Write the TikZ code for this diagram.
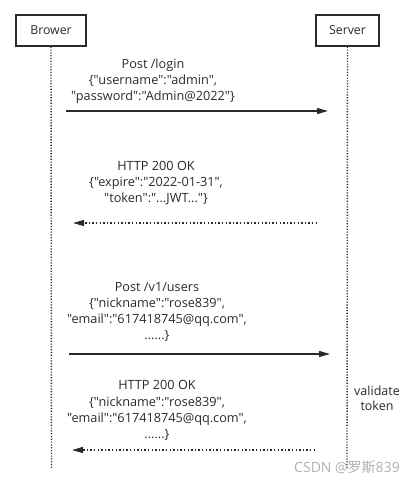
\documentclass[tikz,border=0pt]{standalone}
\usepackage{fontspec}
\setmainfont{Open Sans}[Ligatures=TeXOff]
\newfontfamily\cjkfont{Noto Sans CJK SC}
\usetikzlibrary{arrows.meta}
\definecolor{ink}{HTML}{2A2A2A}
\definecolor{wm}{HTML}{B0B0B0}
\begin{document}
\begin{tikzpicture}[x=1pt,y=-1pt,
  actor/.style={draw=ink,line width=1.4pt,minimum height=31pt,inner sep=0pt,font=\fontsize{12.3}{14}\selectfont,text=ink},
  life/.style={draw=ink,line width=1.4pt,dash pattern=on 1.2pt off 1.6pt},
  msg/.style={draw=ink,line width=1.4pt,-{Triangle[length=11pt,width=6pt]}},
  reply/.style={draw=ink,line width=1.4pt,dash pattern=on 1.4pt off 2.2pt,-{Triangle[length=11pt,width=6pt]}},
  lbl/.style={align=center,text=ink,font=\fontsize{12.7}{16.2}\selectfont,inner sep=0pt}]
\useasboundingbox (0,0) rectangle (418,483);
\node[actor,minimum width=70pt] (brower) at (51,30.5) {Brower};
\node[actor,minimum width=63pt] (server) at (347.5,30.5) {Server};
\coordinate (bend) at (51.5,468);
\coordinate (send) at (347,468);
\draw[life] (brower.south) -- (bend);
\draw[life] (server.south) -- (send);
% message 1
\coordinate (m1a) at (66,111);
\coordinate (m1b) at (328,111);
\draw[msg] (m1a) -- (m1b);
\node[lbl] (t1) at (153,81) {Post /login\\\{"username":"admin",\\"password":"Admin@2022"\}};
% reply 1
\coordinate (r1a) at (317,223);
\coordinate (r1b) at (73,223);
\draw[reply] (r1a) -- (r1b);
\node[lbl] (t2) at (156,183) {HTTP 200 OK\\\{"expire":"2022-01-31",\\"token":"...JWT..."\}};
% message 2
\coordinate (m2a) at (69,354);
\coordinate (m2b) at (330,354);
\draw[msg] (m2a) -- (m2b);
\node[lbl] (t3) at (157,312) {Post /v1/users\\\{"nickname":"rose839",\\"email":"617418745@qq.com",\\......\}};
% reply 2
\coordinate (r2a) at (315,450);
\coordinate (r2b) at (72,450);
\draw[reply] (r2a) -- (r2b);
\node[lbl] (t4) at (157,410.5) {HTTP 200 OK\\\{"nickname":"rose839",\\"email":"617418745@qq.com",\\......\}};
\node[lbl,font=\fontsize{12.5}{15.5}\selectfont] (val) at (377,398.5) {validate\\token};
\node[text=wm,inner sep=0pt,font=\fontsize{14}{16}\selectfont] (wmk) at (347,467) {CSDN @{\cjkfont 罗斯}839};
\end{tikzpicture}
\end{document}
